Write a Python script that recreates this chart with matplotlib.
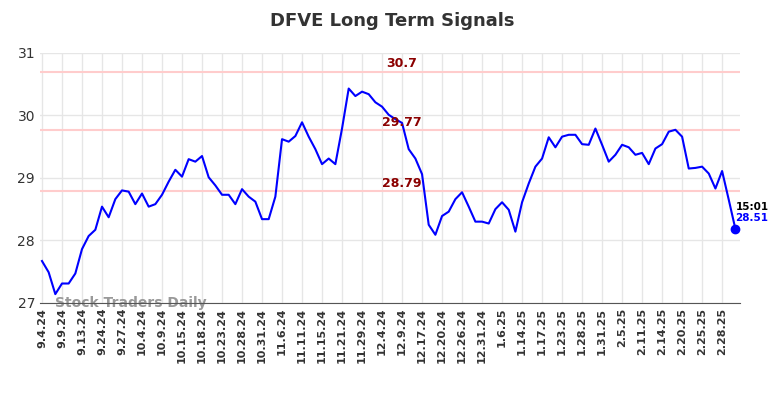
import matplotlib

matplotlib.use("Agg")
import matplotlib.pyplot as plt
import numpy as np

TITLE = "DFVE Long Term Signals"

PRICES = [
    27.67, 27.49, 27.14, 27.31, 27.31, 27.47, 27.86, 28.07, 28.17, 28.54,
    28.37, 28.66, 28.80, 28.78, 28.58, 28.75, 28.54, 28.58, 28.73, 28.94,
    29.13, 29.02, 29.30, 29.26, 29.35, 29.01, 28.88, 28.73, 28.73, 28.58,
    28.82, 28.70, 28.62, 28.34, 28.34, 28.70, 29.62, 29.58, 29.67, 29.89,
    29.66, 29.46, 29.22, 29.31, 29.22, 29.79, 30.43, 30.31, 30.38, 30.34,
    30.21, 30.14, 30.01, 29.94, 29.88, 29.46, 29.31, 29.06, 28.25, 28.09,
    28.39, 28.46, 28.66, 28.77, 28.54, 28.30, 28.30, 28.27, 28.50, 28.61,
    28.49, 28.14, 28.61, 28.91, 29.18, 29.31, 29.65, 29.49, 29.66, 29.69,
    29.69, 29.54, 29.53, 29.79, 29.53, 29.26, 29.37, 29.53, 29.49, 29.37,
    29.40, 29.22, 29.47, 29.54, 29.74, 29.77, 29.66, 29.15, 29.16, 29.18,
    29.07, 28.83, 29.11, 28.65, 28.18,
]

TICK_LABELS = [
    "9.4.24", "9.9.24", "9.13.24", "9.24.24", "9.27.24", "10.4.24", "10.9.24",
    "10.15.24", "10.18.24", "10.23.24", "10.28.24", "10.31.24", "11.6.24",
    "11.11.24", "11.15.24", "11.21.24", "11.29.24", "12.4.24", "12.9.24",
    "12.17.24", "12.20.24", "12.26.24", "12.31.24", "1.6.25", "1.14.25",
    "1.17.25", "1.23.25", "1.28.25", "1.31.25", "2.5.25", "2.11.25",
    "2.14.25", "2.20.25", "2.25.25", "2.28.25",
]

LEVELS = [30.7, 29.77, 28.79]
LAST_TIME = "15:01"
LAST_PRICE = "28.51"

fig = plt.figure(figsize=(7.84, 3.98), dpi=100)
ax = fig.add_axes([0.051, 0.239, 0.893, 0.628])

x = np.arange(len(PRICES))
ax.plot(x, PRICES, color="blue", lw=1.5, zorder=3)
ax.plot(x[-1], PRICES[-1], "o", color="blue", ms=6, zorder=4)

for lvl in LEVELS:
    ax.axhline(lvl, color="#ffcccc", lw=1.5, zorder=2)
    ax.text(54, lvl + 0.02, f"{lvl:g}", color="#8b0000", fontsize=9,
            fontweight="bold", ha="center", va="bottom", zorder=5)

ax.text(x[-1], PRICES[-1] + 0.28, LAST_TIME, color="black", fontsize=7.5,
        fontweight="bold", ha="left", va="bottom")
ax.text(x[-1], PRICES[-1] + 0.1, LAST_PRICE, color="blue", fontsize=7.5,
        fontweight="bold", ha="left", va="bottom")

ax.text(2, 27.0, "Stock Traders Daily", color="#999999", fontsize=10,
        fontweight="bold", ha="left", va="center", zorder=1)

ax.set_xlim(-0.3, 104.7)
ax.set_ylim(27, 31)
ax.set_yticks([27, 28, 29, 30, 31])
ax.set_xticks(x[::3][: len(TICK_LABELS)])
ax.set_xticklabels(TICK_LABELS, rotation=90, fontsize=8, fontweight="bold")
ax.tick_params(axis="y", labelsize=10, colors="#333333", length=0)
ax.tick_params(axis="x", length=0, colors="#333333")
ax.grid(True, color="#e6e6e6", lw=1)
ax.set_axisbelow(True)
for s in ["top", "right", "left"]:
    ax.spines[s].set_visible(False)
ax.spines["bottom"].set_color("#555555")

fig.suptitle(TITLE, fontsize=13, fontweight="bold", color="#333333", y=0.97)

fig.savefig("out.png", dpi=100)
